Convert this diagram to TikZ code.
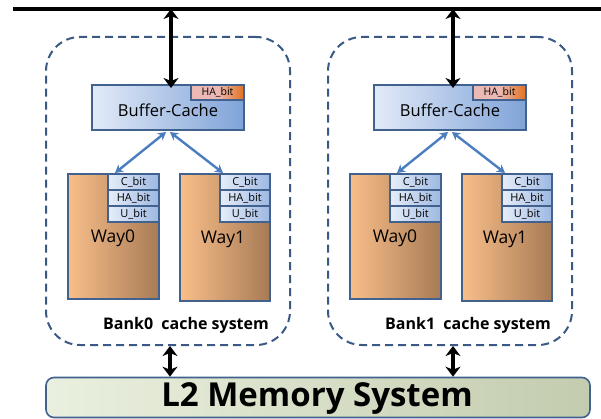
\documentclass[tikz,border=0pt]{standalone}
\usepackage{fontspec}
\setmainfont{Open Sans}
\usetikzlibrary{arrows.meta}
\definecolor{dashc}{HTML}{3A5A85}
\definecolor{edgec}{HTML}{41628F}
\definecolor{bluearr}{HTML}{4A7EC0}
\definecolor{bufL}{HTML}{E2EAF7}
\definecolor{bufM}{HTML}{C9D8EF}
\definecolor{bufR}{HTML}{7FA3D8}
\definecolor{wayL}{HTML}{F8BE8A}
\definecolor{wayR}{HTML}{A87B55}
\definecolor{bitL}{HTML}{E6EDF9}
\definecolor{bitR}{HTML}{9DB8E2}
\definecolor{haL}{HTML}{EDB9B4}
\definecolor{haR}{HTML}{E2701E}
\definecolor{l2L}{HTML}{EAF0DF}
\definecolor{l2R}{HTML}{C3CCAE}
\tikzset{
  bankbox/.style={draw=dashc, line width=2pt, dash pattern=on 8pt off 5pt, rounded corners=34pt, inner sep=0pt},
  bufbox/.style={draw=edgec, line width=2pt, inner sep=0pt, left color=bufL, middle color=bufM, right color=bufR},
  habox/.style={draw=edgec, line width=1.6pt, inner sep=0pt, left color=haL, right color=haR, middle color=haL, font=\fontsize{10.5}{10.5}\selectfont},
  waybox/.style={draw=edgec, line width=2pt, inner sep=0pt, left color=wayL, right color=wayR},
  bitbox/.style={draw=edgec, line width=1.6pt, inner sep=0pt, left color=bitL, right color=bitR, minimum height=16pt, font=\fontsize{11}{11}\selectfont},
  waylab/.style={font=\fontsize{17.5}{17.5}\selectfont, inner sep=0pt},
  banklab/.style={font=\bfseries\fontsize{16}{16}\selectfont, inner sep=0pt},
  bigarr/.style={line width=3.5pt, {Stealth[length=10pt,width=15pt,inset=3pt]}-{Stealth[length=10pt,width=15pt,inset=3pt]}},
  bluearrow/.style={draw=bluearr, line width=2.4pt, {Stealth[length=8pt,width=9pt]}-{Stealth[length=8pt,width=9pt]}},
}
\begin{document}
\begin{tikzpicture}[x=1pt,y=-1pt]
\useasboundingbox (0,0) rectangle (601,419);
\fill[white] (0,0) rectangle (601,419);
% top bus
\coordinate (busL) at (13,9);
\coordinate (busR) at (601,9);
\draw[line width=4pt] (busL) -- (busR);

\foreach \s/\k in {0/0,282/1}{
\begin{scope}[xshift=\s]
  \node[bankbox, minimum width=244pt, minimum height=308pt] (bank\k) at (168,191) {};
  \node[bufbox, minimum width=152pt, minimum height=45pt] (buf\k) at (168,107.5) {};
  \node[inner sep=0pt, font=\fontsize{16.5}{16.5}\selectfont] at (168,110) {Buffer-Cache};
  \node[habox, minimum width=53pt, minimum height=15pt] (ha\k) at (217.5,92.5) {HA\_bit};
  \coordinate (bt\k) at (171,9);
  \draw[bigarr] (bt\k) -- ([yshift=-4pt]buf\k.north -| bt\k) ;
  % ways
  \node[waybox, minimum width=91pt, minimum height=125pt] (wa\k) at (113.5,236.5) {};
  \node[waybox, minimum width=90pt, minimum height=127pt] (wb\k) at (225,237.5) {};
  \node[bitbox, minimum width=51pt] (ca\k) at (133.5,182) {C\_bit};
  \node[bitbox, minimum width=51pt] (hab\k) at (133.5,198) {HA\_bit};
  \node[bitbox, minimum width=51pt] (ua\k) at (133.5,214) {U\_bit};
  \node[bitbox, minimum width=50pt] (cb\k) at (245,182) {C\_bit};
  \node[bitbox, minimum width=50pt] (hbb\k) at (245,198) {HA\_bit};
  \node[bitbox, minimum width=50pt] (ub\k) at (245,214) {U\_bit};
  \node[waylab] at (113,238.5) {Way0};
  \node[waylab] at (223,239.5) {Way1};
  \coordinate (bsa\k) at (166,132);
  \coordinate (bsb\k) at (170,132);
  \coordinate (wta\k) at (115,173);
  \coordinate (wtb\k) at (223,173);
  \draw[bluearrow] (bsa\k) -- (wta\k);
  \draw[bluearrow] (bsb\k) -- (wtb\k);
  \node[banklab] at (186,325) {Bank\k\ \ cache system};
\end{scope}
}
% L2
\node[draw=edgec, line width=1.6pt, rounded corners=8pt, minimum width=544pt, minimum height=40pt, inner sep=0pt, left color=l2L, right color=l2R] (l2) at (318,397.5) {};
\node[inner sep=0pt, font=\bfseries\fontsize{33}{33}\selectfont] at (317,399) {L2 Memory System};
\coordinate (d0) at (170,346);
\coordinate (d1) at (453,346);
\draw[bigarr] (d0) -- (d0 |- l2.north);
\draw[bigarr] (d1) -- (d1 |- l2.north);
\end{tikzpicture}
\end{document}
